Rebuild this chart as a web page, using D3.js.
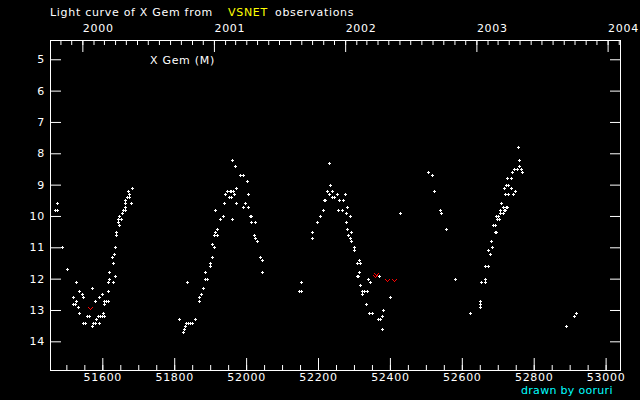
<!DOCTYPE html>
<html><head><meta charset="utf-8">
<script src="https://cdn.jsdelivr.net/npm/d3@7"></script>
<style>
html,body{margin:0;padding:0;background:#000;}
svg{display:block;}
text{font-family:"DejaVu Sans",sans-serif;font-size:11px;letter-spacing:0.7px;}
</style>
</head><body>
<svg id="c" width="640" height="400"></svg>
<script>
// Julian Date - 2400000 of each visual observation
const obsJd = [
 51473,51468,51473,51489,51503,51528,51572,51536,51519,51544,51547,51528,51519,51525,51531,51536,
 51547,51553,51558,51564,51572,51575,51581,51583,51589,51594,51592,51603,51600,51606,51581,51592,
 51600,51606,51606,51611,51617,51617,51619,51617,51631,51636,51619,51631,51628,51633,51636,51639,
 51639,51646,51644,51652,51644,51646,51656,51658,51664,51664,51664,51664,51668,51675,51675,51672,
 51681,51683,
 51814,51836,51825,51828,51831,51833,51839,51844,51850,51858,51869,51869,51875,51881,51887,51890,
 51886,51900,51900,51906,51906,51911,51911,51919,51914,51919,51928,51936,51914,51939,51961,51953,
 51958,51942,51947,51955,51958,51964,51967,51972,51972,51961,51969,51983,51992,52003,52006,51997,
 51992,52006,52011,52014,52014,52025,52022,52025,52031,52039,52044,52044,
 52153,52147,52153,52231,52233,52225,52239,52231,52253,52275,52217,52219,52239,52244,52258,52269,
 52281,52214,52256,52267,52278,52206,52289,52197,52278,52281,52292,52183,52183,52283,52289,52292,
 52300,52300,52314,52308,52317,52314,52308,52311,52339,52344,52369,52317,52322,52328,52336,52322,
 52400,52333,52381,52342,52350,52378,52367,52372,52378,52428,
 52506,52517,52522,52538,52542,52556,52581,52622,52650,52650,52650,52664,52664,52653,52664,52672,
 52681,52683,52672,52678,52692,52694,52686,52692,52694,52700,52697,52703,52706,52714,52706,52717,
 52719,52714,52722,52725,52708,52719,52728,52742,52747,52717,52736,52722,52728,52725,52736,52739,
 52767,52744,52753,52764,52758,52758,52756,52889,52911,52919
];
// visual magnitude of each observation
const obsMag = [
 9.6,9.8,9.8,11.0,11.7,12.1,12.3,12.4,12.6,12.5,12.6,12.7,12.8,12.8,12.9,13.1,
 13.4,13.4,13.2,13.2,13.5,13.4,13.4,13.3,13.2,13.2,13.4,13.1,13.2,13.2,12.7,12.6,
 12.5,12.7,12.8,12.7,12.7,12.4,12.0,12.1,12.1,11.9,11.8,11.5,11.3,11.2,11.0,10.5,
 10.6,10.0,10.1,10.1,10.2,10.3,9.9,9.8,9.8,9.7,9.6,9.5,9.4,9.4,9.3,9.2,
 9.6,9.1,
 13.3,12.1,13.7,13.6,13.5,13.4,13.4,13.4,13.4,13.3,12.6,12.7,12.5,12.3,12.0,12.0,
 11.8,11.6,11.5,11.3,10.9,11.0,10.6,10.6,10.5,10.4,10.1,10.0,9.8,9.6,10.1,9.4,
 9.4,9.3,9.2,9.2,9.2,9.2,9.3,9.1,9.6,8.2,8.4,8.7,8.7,8.9,9.3,9.6,
 9.7,9.7,10.0,10.0,10.2,10.2,10.6,10.7,10.8,11.3,11.4,11.8,
 12.1,12.4,12.4,8.3,9.0,9.2,9.2,9.3,9.3,9.3,9.5,9.5,9.4,9.4,9.5,9.5,
 9.7,9.8,9.8,9.8,9.9,10.0,10.0,10.2,10.2,10.4,10.5,10.5,10.7,10.6,10.7,10.8,
 11.0,11.1,11.4,11.5,11.5,11.8,11.9,11.9,12.0,12.1,11.9,12.2,12.4,12.4,12.4,12.5,
 12.6,12.8,13.0,13.1,13.1,13.2,13.3,13.3,13.6,9.9,
 8.6,8.7,9.2,9.8,9.9,10.4,12.0,13.1,12.7,12.8,12.9,12.0,12.1,12.1,11.6,11.6,
 10.8,11.0,11.1,11.2,10.5,10.5,10.3,10.3,10.0,10.0,10.1,10.1,9.9,9.9,9.8,9.8,
 9.8,9.7,9.7,9.7,9.6,9.3,9.3,9.3,9.2,9.1,9.1,9.0,9.0,8.8,8.8,8.6,
 8.6,8.5,8.5,8.5,8.4,8.2,7.8,13.5,13.2,13.1
];
// "fainter than" observations (red marks)
const limJd = [51566, 52362, 52359, 52392, 52411];
const limMag = [12.93, 11.85, 11.93, 12.05, 12.05];

const jdTicks = [51600, 51800, 52000, 52200, 52400, 52600, 52800, 53000];
const magTicks = [5, 6, 7, 8, 9, 10, 11, 12, 13, 14];
const yearLabels = ["2000", "2001", "2002", "2003", "2004"];

const svg = d3.select("#c");
svg.append("rect").attr("width", 640).attr("height", 400).attr("fill", "#000");

const x = d3.scaleLinear().domain([51454.5, 53040]).range([50, 620]);
const y = d3.scaleLinear().domain([4.385, 14.915]).range([40, 370]);
const jd2date = j => new Date((j - 40587.5) * 864e5);
const xt = d3.scaleUtc().domain(x.domain().map(jd2date)).range(x.range());

function style(g) {
  g.attr("font-family", null).attr("font-size", null).style("color", "#fff");
  g.select(".domain").remove();
  g.selectAll("line").attr("stroke", "#fff");
  g.selectAll("text").attr("fill", "#fff");
}

// frame
svg.append("rect").attr("x", 50.5).attr("y", 40.5).attr("width", 570).attr("height", 330)
  .attr("fill", "none").attr("stroke", "#fff").attr("shape-rendering", "crispEdges");

// top: months (minor) and years (major)
const monthTicks = d3.utcMonth.range(xt.domain()[0], xt.domain()[1]);
svg.append("g").attr("transform", "translate(0,40)")
  .call(d3.axisTop(xt).tickValues(monthTicks).tickSizeInner(-5).tickSizeOuter(0).tickFormat(""))
  .call(style);
const yearTicks = yearLabels.map(s => new Date(Date.UTC(+s, 0, 1)));
svg.append("g").attr("transform", "translate(0,40)")
  .call(d3.axisTop(xt).tickValues(yearTicks).tickSizeInner(-12).tickSizeOuter(0).tickFormat((d, i) => yearLabels[i]))
  .call(style)
  .call(g => g.selectAll("text").attr("text-anchor", "start").attr("x", 0).attr("y", -8).attr("dy", null));

// bottom: JD
svg.append("g").attr("transform", "translate(0,370)")
  .call(d3.axisBottom(x).tickValues(d3.range(51500, 53040, 50)).tickSizeInner(-5).tickSizeOuter(0).tickFormat(""))
  .call(style);
svg.append("g").attr("transform", "translate(0,370)")
  .call(d3.axisBottom(x).tickValues(jdTicks).tickSizeInner(-12).tickSizeOuter(0).tickFormat(d3.format("d")))
  .call(style)
  .call(g => g.selectAll("text").attr("y", 11).attr("dy", null));

// left / right: magnitude
svg.append("g").attr("transform", "translate(50,0)")
  .call(d3.axisLeft(y).tickValues(magTicks).tickSizeInner(-11).tickSizeOuter(0).tickPadding(5))
  .call(style);
svg.append("g").attr("transform", "translate(620,0)")
  .call(d3.axisRight(y).tickValues(magTicks).tickSizeInner(-10).tickSizeOuter(0).tickFormat(""))
  .call(style);

// observations: small plus signs
const pts = svg.append("g").attr("fill", "#fff").attr("shape-rendering", "crispEdges");
obsJd.forEach((j, i) => {
  const px = Math.round(x(j)), py = Math.round(y(obsMag[i]));
  pts.append("rect").attr("x", px - 1).attr("y", py).attr("width", 3).attr("height", 1);
  pts.append("rect").attr("x", px).attr("y", py - 1).attr("width", 1).attr("height", 3);
});
// fainter-than marks: red "v"
const lim = svg.append("g").attr("fill", "#ff0000").attr("shape-rendering", "crispEdges");
limJd.forEach((j, i) => {
  const px = Math.round(x(j)), py = Math.round(y(limMag[i]));
  lim.append("path").attr("transform", `translate(${px},${py})`)
    .attr("d", "M-2,-1h1v1h-1z M-1,0h1v1h-1z M0,1h1v1h-1z M1,0h1v1h-1z M2,-1h1v1h-1z");
});

// texts
const title = svg.append("text").attr("y", 16).attr("fill", "#fff");
title.append("tspan").attr("x", 50).text("Light curve of X Gem from");
title.append("tspan").attr("x", 228).attr("fill", "#ffff00").text("VSNET");
title.append("tspan").attr("x", 275).text("observations");
svg.append("text").attr("x", 150).attr("y", 64).attr("fill", "#fff").text("X Gem (M)");
svg.append("text").attr("x", 521).attr("y", 394).attr("fill", "#00ffff")
  .style("letter-spacing", "0.3px").text("drawn by ooruri");
</script>
</body></html>
